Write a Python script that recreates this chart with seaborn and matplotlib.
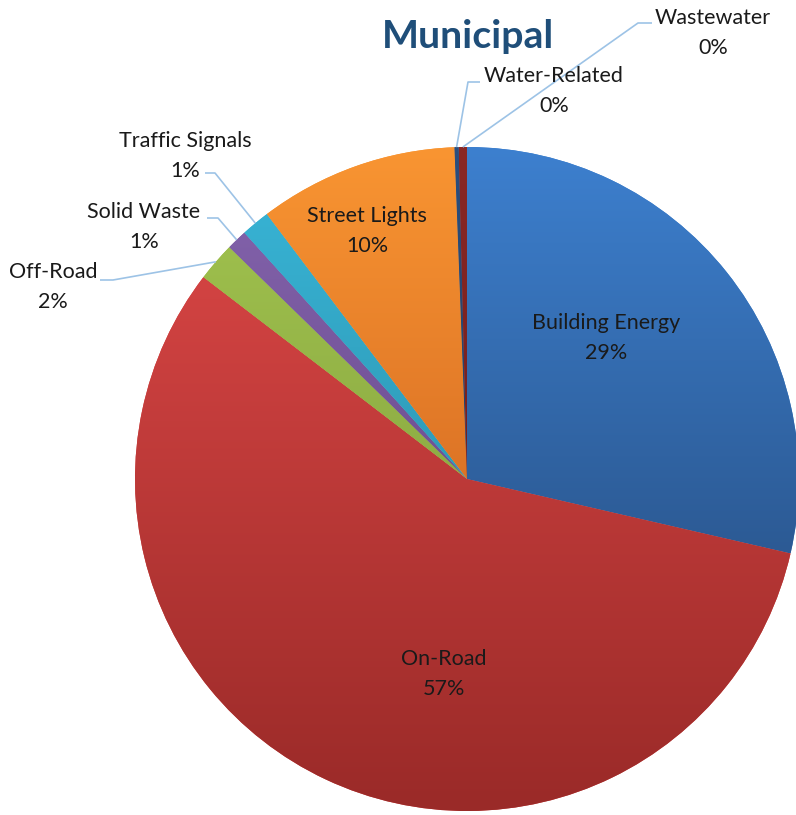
import numpy as np
import matplotlib
matplotlib.use("Agg")
import matplotlib.pyplot as plt
import seaborn as sns
from matplotlib.colors import to_rgb

# ---- data ----
categories = ["Building Energy", "On-Road", "Off-Road", "Solid Waste",
              "Traffic Signals", "Street Lights", "Water-Related", "Wastewater"]
shares = [28.6, 56.8, 1.9, 1.0, 1.4, 9.7, 0.2, 0.4]
pct_labels = ["29%", "57%", "2%", "1%", "1%", "10%", "0%", "0%"]
title = "Municipal"

top_colors = ["#3D80CF", "#D24342", "#9DBE4C", "#8060A8",
              "#37B1D2", "#F99532", "#2B4F7E", "#8A2825"]
bottom_colors = ["#2C5A94", "#9A2A28", "#8EAD44", "#6F5093",
                 "#2F9BB8", "#DD7426", "#233F66", "#741F1E"]

# ---- layout (pixel space, y measured from top) ----
W, H = 796, 815
cx, cy, R = 467, 479, 332

def Y(y):
    return H - y

label_pos = {
    "Building Energy": (606, 338),
    "On-Road": (444, 674),
    "Off-Road": (53, 287),
    "Solid Waste": (144, 227),
    "Traffic Signals": (185, 156),
    "Street Lights": (367, 231),
    "Water-Related": (554, 91),
    "Wastewater": (713, 33),
}
leaders = {
    "Off-Road": [(100, 280), (113, 280)],
    "Solid Waste": [(207, 218), (218, 218)],
    "Traffic Signals": [(205, 173), (215, 173)],
    "Water-Related": [(480, 82), (468, 82)],
    "Wastewater": [(652, 23), (638, 23)],
}

sns.set_theme(style="white")
plt.rcParams['font.family'] = ['Lato', 'DejaVu Sans']

fig = plt.figure(figsize=(W / 100, H / 100), dpi=100)
ax = fig.add_axes([0, 0, 1, 1])

wedges, _ = ax.pie(shares, startangle=90, counterclock=False,
                   center=(cx, Y(cy)), radius=R, colors=top_colors,
                   wedgeprops=dict(linewidth=0, antialiased=True))

for w, ct, cb in zip(wedges, top_colors, bottom_colors):
    ext = w.get_path().get_extents()
    n = 256
    t = np.linspace(0, 1, n)[:, None]
    a, b = np.array(to_rgb(cb)), np.array(to_rgb(ct))
    grad = (a[None, :] * (1 - t) + b[None, :] * t)[:, None, :]
    im = ax.imshow(grad, extent=(ext.x0, ext.x1, ext.y0, ext.y1),
                   origin='lower', aspect='auto', interpolation='bilinear',
                   zorder=2)
    im.set_clip_path(w)

ax.set_xlim(0, W)
ax.set_ylim(0, H)
ax.set_aspect('auto')
ax.axis('off')

for cat, pct, w in zip(categories, pct_labels, wedges):
    x, y = label_pos[cat]
    ax.text(x, Y(y), f"{cat}\n{pct}", ha='center', va='center',
            fontsize=15.5, color='#1a1a1a', linespacing=1.58, zorder=5)
    if cat in leaders:
        ang = np.deg2rad((w.theta1 + w.theta2) / 2)
        ex = cx + R * np.cos(ang)
        ey = Y(cy) + R * np.sin(ang)
        pts = [(px, Y(py)) for px, py in leaders[cat]] + [(ex, ey)]
        xs, ys = zip(*pts)
        ax.plot(xs, ys, color='#9DC3E6', lw=1.2, zorder=4,
                solid_capstyle='butt')

ax.text(468, Y(36), title, ha='center', va='center', fontsize=28.3,
        fontweight='bold', color='#1F4E79', zorder=5)

fig.savefig("out.png", dpi=100)
